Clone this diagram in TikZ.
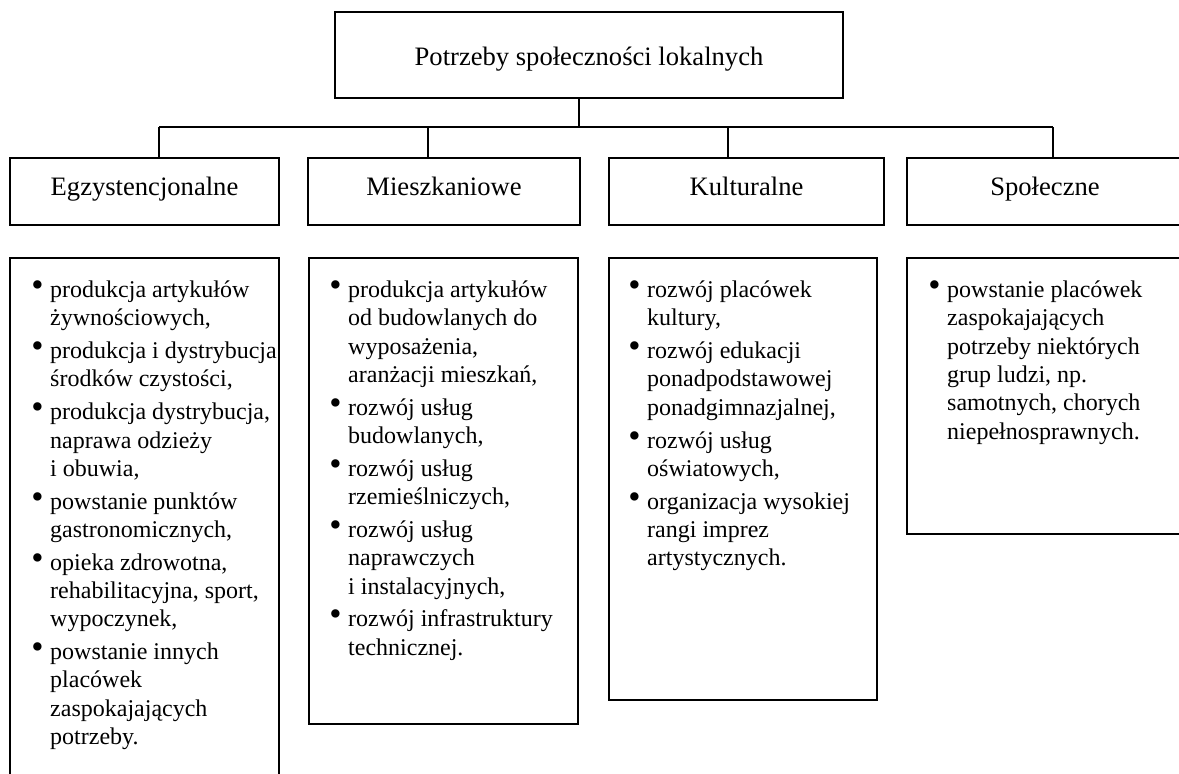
\documentclass[tikz,border=0pt]{standalone}
\usepackage{fontspec}
\setmainfont{Liberation Serif}
\tikzset{
  box/.style={draw, line width=1.1pt, inner sep=0pt, rectangle},
  catbox/.style={box, minimum height=67pt, text height=18pt, text depth=11pt, font=\fontsize{26.6}{30}\selectfont},
  conn/.style={line width=1.3pt},
  listtext/.style={inner sep=0pt, anchor=base west, font=\fontsize{24}{28.3}\selectfont}
}
\newcommand\blt{\leavevmode\llap{\raisebox{1pt}{\fontsize{35}{35}\selectfont •}\hspace{6.5pt}}}
\newcommand\lst[1]{\parbox[t]{280pt}{\fontsize{24}{28.3}\selectfont\setlength\parskip{4.5pt}\setlength\parindent{0pt}#1}}
\begin{document}
\begin{tikzpicture}[x=1pt,y=-1pt]
\useasboundingbox (0,0) rectangle (1179,774);
\begin{scope}
\clip (0,0) rectangle (1179,774);
% top
\node[box, minimum width=508pt, minimum height=86pt, text height=20pt, text depth=0pt, font=\fontsize{26.6}{30}\selectfont] (top) at (589,55) {Potrzeby społeczności lokalnych};
% categories
\node[catbox, minimum width=269pt] (c1) at (144.5,191.5) {Egzystencjonalne};
\node[catbox, minimum width=272pt] (c2) at (444,191.5) {Mieszkaniowe};
\node[catbox, minimum width=275pt] (c3) at (746.5,191.5) {Kulturalne};
\node[catbox, minimum width=276pt] (c4) at (1045,191.5) {Społeczne};
% connectors
\coordinate (j0) at (579,127);
\coordinate (j1) at (159,127);
\coordinate (j2) at (428,127);
\coordinate (j3) at (728,127);
\coordinate (j4) at (1053,127);
\draw[conn] (top.south -| j0) -- (j0);
\draw[conn] (j1) -- (j4);
\draw[conn] (j1) -- (c1.north -| j1);
\draw[conn] (j2) -- (c2.north -| j2);
\draw[conn] (j3) -- (c3.north -| j3);
\draw[conn] (j4) -- (c4.north -| j4);
% content boxes
\node[box, minimum width=269pt, minimum height=542pt] (b1) at (144.5,529) {};
\node[box, minimum width=269pt, minimum height=466pt] (b2) at (443.5,491) {};
\node[box, minimum width=268pt, minimum height=442pt] (b3) at (743,479) {};
\node[box, minimum width=278pt, minimum height=276pt] (b4) at (1046,396) {};
% texts
\node[listtext] (t1) at (50,297.5) {\lst{%
\blt produkcja artykułów\\żywnościowych,\par
\blt produkcja i dystrybucja\\środków czystości,\par
\blt produkcja dystrybucja,\\naprawa odzieży\\i obuwia,\par
\blt powstanie punktów\\gastronomicznych,\par
\blt opieka zdrowotna,\\rehabilitacyjna, sport,\\wypoczynek,\par
\blt powstanie innych\\placówek\\zaspokajających\\potrzeby.}};
\node[listtext] (t2) at (348,297.5) {\lst{%
\blt produkcja artykułów\\od budowlanych do\\wyposażenia,\\aranżacji mieszkań,\par
\blt rozwój usług\\budowlanych,\par
\blt rozwój usług\\rzemieślniczych,\par
\blt rozwój usług\\naprawczych\\i instalacyjnych,\par
\blt rozwój infrastruktury\\technicznej.}};
\node[listtext] (t3) at (647,297.5) {\lst{%
\blt rozwój placówek\\kultury,\par
\blt rozwój edukacji\\ponadpodstawowej\\ponadgimnazjalnej,\par
\blt rozwój usług\\oświatowych,\par
\blt organizacja wysokiej\\rangi imprez\\artystycznych.}};
\node[listtext] (t4) at (947,297.5) {\lst{%
\blt powstanie placówek\\zaspokajających\\potrzeby niektórych\\grup ludzi, np.\\samotnych, chorych\\niepełnosprawnych.}};
\end{scope}
\end{tikzpicture}
\end{document}
